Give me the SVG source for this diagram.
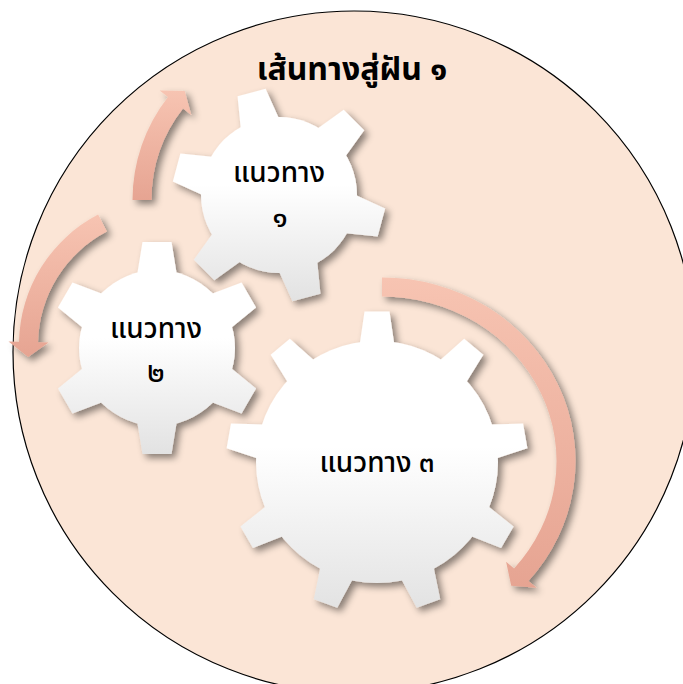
<svg xmlns="http://www.w3.org/2000/svg" xmlns:xlink="http://www.w3.org/1999/xlink" width="683" height="684" viewBox="0 0 683 684">
<style>
.t{font-family:"Noto Sans Thai","Tahoma","Noto Sans","DejaVu Sans",sans-serif;fill:#000;text-anchor:middle}
.title{font-size:32px;font-weight:bold}
.lbl{font-size:28px;font-weight:500}
.arr{fill:url(#ag)}
</style>
<defs>
<filter id="sh" x="-20%" y="-20%" width="140%" height="140%">
<feDropShadow dx="4" dy="4" stdDeviation="3.5" flood-color="#000" flood-opacity="0.45"/>
</filter>
<linearGradient id="ag" x1="0" y1="0" x2="0" y2="1">
<stop offset="0" stop-color="#F7C4B2"/>
<stop offset="1" stop-color="#E6A492"/>
</linearGradient>
<linearGradient id="g1" gradientUnits="userSpaceOnUse" x1="0" y1="89" x2="0" y2="301">
<stop offset="0" stop-color="#fff"/><stop offset="0.45" stop-color="#fff"/><stop offset="1" stop-color="#e2e2e2"/>
</linearGradient>
<linearGradient id="g2" gradientUnits="userSpaceOnUse" x1="0" y1="242" x2="0" y2="455">
<stop offset="0" stop-color="#fff"/><stop offset="0.45" stop-color="#fff"/><stop offset="1" stop-color="#e2e2e2"/>
</linearGradient>
<linearGradient id="g3" gradientUnits="userSpaceOnUse" x1="0" y1="311" x2="0" y2="613">
<stop offset="0" stop-color="#fff"/><stop offset="0.45" stop-color="#fff"/><stop offset="1" stop-color="#e2e2e2"/>
</linearGradient>
<polygon id="t6" points="-21.2,-65 -14.5,-106 14.5,-106 21.2,-65"/>
<polygon id="t9" points="-18.4,-110 -12.5,-150.5 12.5,-150.5 18.4,-110"/>
<mask id="m1" maskUnits="userSpaceOnUse" x="0" y="0" width="683" height="684">
<g fill="#fff" transform="translate(279 195)">
<circle r="78"/>
<use xlink:href="#t6" transform="rotate(45)"/><use xlink:href="#t6" transform="rotate(105)"/><use xlink:href="#t6" transform="rotate(165)"/>
<use xlink:href="#t6" transform="rotate(225)"/><use xlink:href="#t6" transform="rotate(285)"/><use xlink:href="#t6" transform="rotate(345)"/>
</g>
</mask>
<mask id="m2" maskUnits="userSpaceOnUse" x="0" y="0" width="683" height="684">
<g fill="#fff" transform="translate(157 348)">
<circle r="78"/>
<use xlink:href="#t6"/><use xlink:href="#t6" transform="rotate(60)"/><use xlink:href="#t6" transform="rotate(120)"/>
<use xlink:href="#t6" transform="rotate(180)"/><use xlink:href="#t6" transform="rotate(240)"/><use xlink:href="#t6" transform="rotate(300)"/>
</g>
</mask>
<mask id="m3" maskUnits="userSpaceOnUse" x="0" y="0" width="683" height="684">
<g fill="#fff" transform="translate(377 462)">
<circle r="121"/>
<use xlink:href="#t9"/><use xlink:href="#t9" transform="rotate(40)"/><use xlink:href="#t9" transform="rotate(80)"/>
<use xlink:href="#t9" transform="rotate(120)"/><use xlink:href="#t9" transform="rotate(160)"/><use xlink:href="#t9" transform="rotate(200)"/>
<use xlink:href="#t9" transform="rotate(240)"/><use xlink:href="#t9" transform="rotate(280)"/><use xlink:href="#t9" transform="rotate(320)"/>
</g>
</mask>
</defs>
<g id="background">
<circle cx="354" cy="352" r="341" fill="#FBE5D6" stroke="#000" stroke-width="1.2"/>
</g>
<text id="title" class="t title" x="352" y="80">เส้นทางสู่ฝัน ๑</text>
<g id="connectors" filter="url(#sh)">
<path class="arr" d="M132.5 200 A167.5 167.5 0 0 1 168 96.9 L159.7 90.4 L184.7 90.9 L191.3 115 L183 108.6 A148.5 148.5 0 0 0 151.5 200 Z"/>
<path class="arr" d="M98.1 214.6 A147 147 0 0 0 19 341.8 L8.5 341.6 L28.2 357 L48.5 342.4 L38 342.2 A128 128 0 0 1 106.9 231.5 Z"/>
<path class="arr" d="M382 277.5 A193.5 183.5 0 0 1 528.5 580.9 L536.5 587.7 L511.2 585.8 L506.1 561.7 L514.1 568.5 A174.5 164.5 0 0 0 382 296.5 Z"/>
</g>
<g id="gear3">
<g filter="url(#sh)"><rect x="200" y="290" width="360" height="340" fill="url(#g3)" mask="url(#m3)"/></g>
<text class="t lbl" x="377" y="472">แนวทาง ๓</text>
</g>
<g id="gear2">
<g filter="url(#sh)"><rect x="40" y="230" width="240" height="240" fill="url(#g2)" mask="url(#m2)"/></g>
<text class="t lbl" x="156" y="338">แนวทาง</text>
<text class="t lbl" x="156" y="382">๒</text>
</g>
<g id="gear1">
<g filter="url(#sh)"><rect x="160" y="80" width="240" height="230" fill="url(#g1)" mask="url(#m1)"/></g>
<text class="t lbl" x="279" y="182">แนวทาง</text>
<text class="t lbl" x="280" y="227">๑</text>
</g>
</svg>
